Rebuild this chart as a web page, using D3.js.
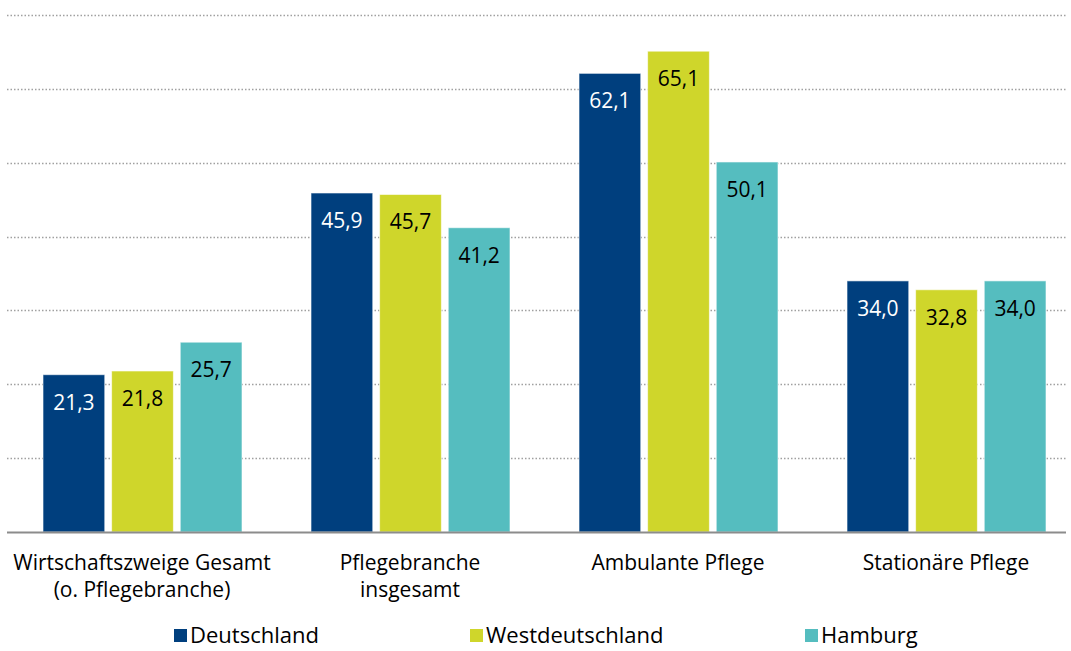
<!DOCTYPE html>
<html>
<head>
<meta charset="utf-8">
<script src="https://cdn.jsdelivr.net/npm/d3@7"></script>
<style>
  body { margin: 0; background: #fff; }
  svg text { font-family: "Open Sans", "Noto Sans", sans-serif; }
</style>
</head>
<body>
<div id="chart"></div>
<script>
// data
var categories = [["Wirtschaftszweige Gesamt", "(o. Pflegebranche)"], ["Pflegebranche", "insgesamt"], ["Ambulante Pflege"], ["Stationäre Pflege"]];
var seriesNames = ["Deutschland", "Westdeutschland", "Hamburg"];
var deutschland = [21.3, 45.9, 62.1, 34.0];
var westdeutschland = [21.8, 45.7, 65.1, 32.8];
var hamburg = [25.7, 41.2, 50.1, 34.0];
var gridTicks = [10, 20, 30, 40, 50, 60, 70];

var colors = ["#003f7e", "#cfd62b", "#55bdbf"];
var labelColors = ["#ffffff", "#000000", "#000000"];

var width = 1071, height = 651;
var svg = d3.select("#chart").append("svg")
    .attr("width", width)
    .attr("height", height);

var catKeys = categories.map(function (c) { return c.join(" "); });

var x = d3.scaleBand()
    .domain(catKeys)
    .range([8, 1080]);

var xInner = d3.scaleBand()
    .domain(seriesNames)
    .range([35, 234])
    .paddingInner(0.1);

var y = d3.scaleLinear()
    .domain([0, 70])
    .range([532, 15]);

// dotted gridlines
svg.selectAll(".grid")
    .data(gridTicks)
    .enter()
    .append("line")
    .attr("x1", 7)
    .attr("x2", 1066)
    .attr("y1", function (d) { return Math.round(y(d)) + 0.5; })
    .attr("y2", function (d) { return Math.round(y(d)) + 0.5; })
    .attr("stroke", "#a0a0a0")
    .attr("stroke-width", 1.5)
    .attr("stroke-dasharray", "1.5,2");

var data = [deutschland, westdeutschland, hamburg];
var rows = [];
catKeys.forEach(function (k, i) {
    seriesNames.forEach(function (s, j) {
        rows.push({cat: k, series: s, idx: j, value: data[j][i]});
    });
});

var bars = svg.selectAll(".bar")
    .data(rows)
    .enter()
    .append("g");

bars.append("rect")
    .attr("x", function (d) { return x(d.cat) + xInner(d.series); })
    .attr("y", function (d) { return y(d.value); })
    .attr("width", xInner.bandwidth())
    .attr("height", function (d) { return y(0) - y(d.value); })
    .attr("fill", function (d) { return colors[d.idx]; })
    .attr("stroke", "#ffffff")
    .attr("stroke-opacity", 0.6)
    .attr("stroke-width", 1);

bars.append("text")
    .attr("x", function (d) { return x(d.cat) + xInner(d.series) + xInner.bandwidth() / 2; })
    .attr("y", function (d) { return y(d.value) + 35; })
    .attr("text-anchor", "middle")
    .style("font-size", "21px")
    .style("fill", function (d) { return labelColors[d.idx]; })
    .text(function (d) { return d.value.toFixed(1).replace(".", ","); });

// baseline
svg.append("line")
    .attr("x1", 7)
    .attr("x2", 1066)
    .attr("y1", 532.5)
    .attr("y2", 532.5)
    .attr("stroke", "#8c8c8c")
    .attr("stroke-width", 2);

// category labels
var catLabels = svg.selectAll(".cat")
    .data(categories)
    .enter()
    .append("text")
    .attr("text-anchor", "middle")
    .style("font-size", "21px")
    .style("fill", "#000");
catLabels.each(function (c, i) {
    var t = d3.select(this);
    c.forEach(function (line, j) {
        t.append("tspan")
            .attr("x", x(catKeys[i]) + x.bandwidth() / 2)
            .attr("y", 570 + j * 27)
            .text(line);
    });
});

// legend
var legendX = [174, 470, 805];
var legend = svg.selectAll(".legend")
    .data(seriesNames)
    .enter()
    .append("g")
    .attr("transform", function (d, i) { return "translate(" + legendX[i] + ",629)"; });
legend.append("rect")
    .attr("width", 13)
    .attr("height", 13)
    .attr("fill", function (d, i) { return colors[i]; });
legend.append("text")
    .attr("x", 16)
    .attr("y", 14)
    .style("font-size", "22px")
    .style("fill", "#000")
    .text(function (d) { return d; });
</script>
</body>
</html>
